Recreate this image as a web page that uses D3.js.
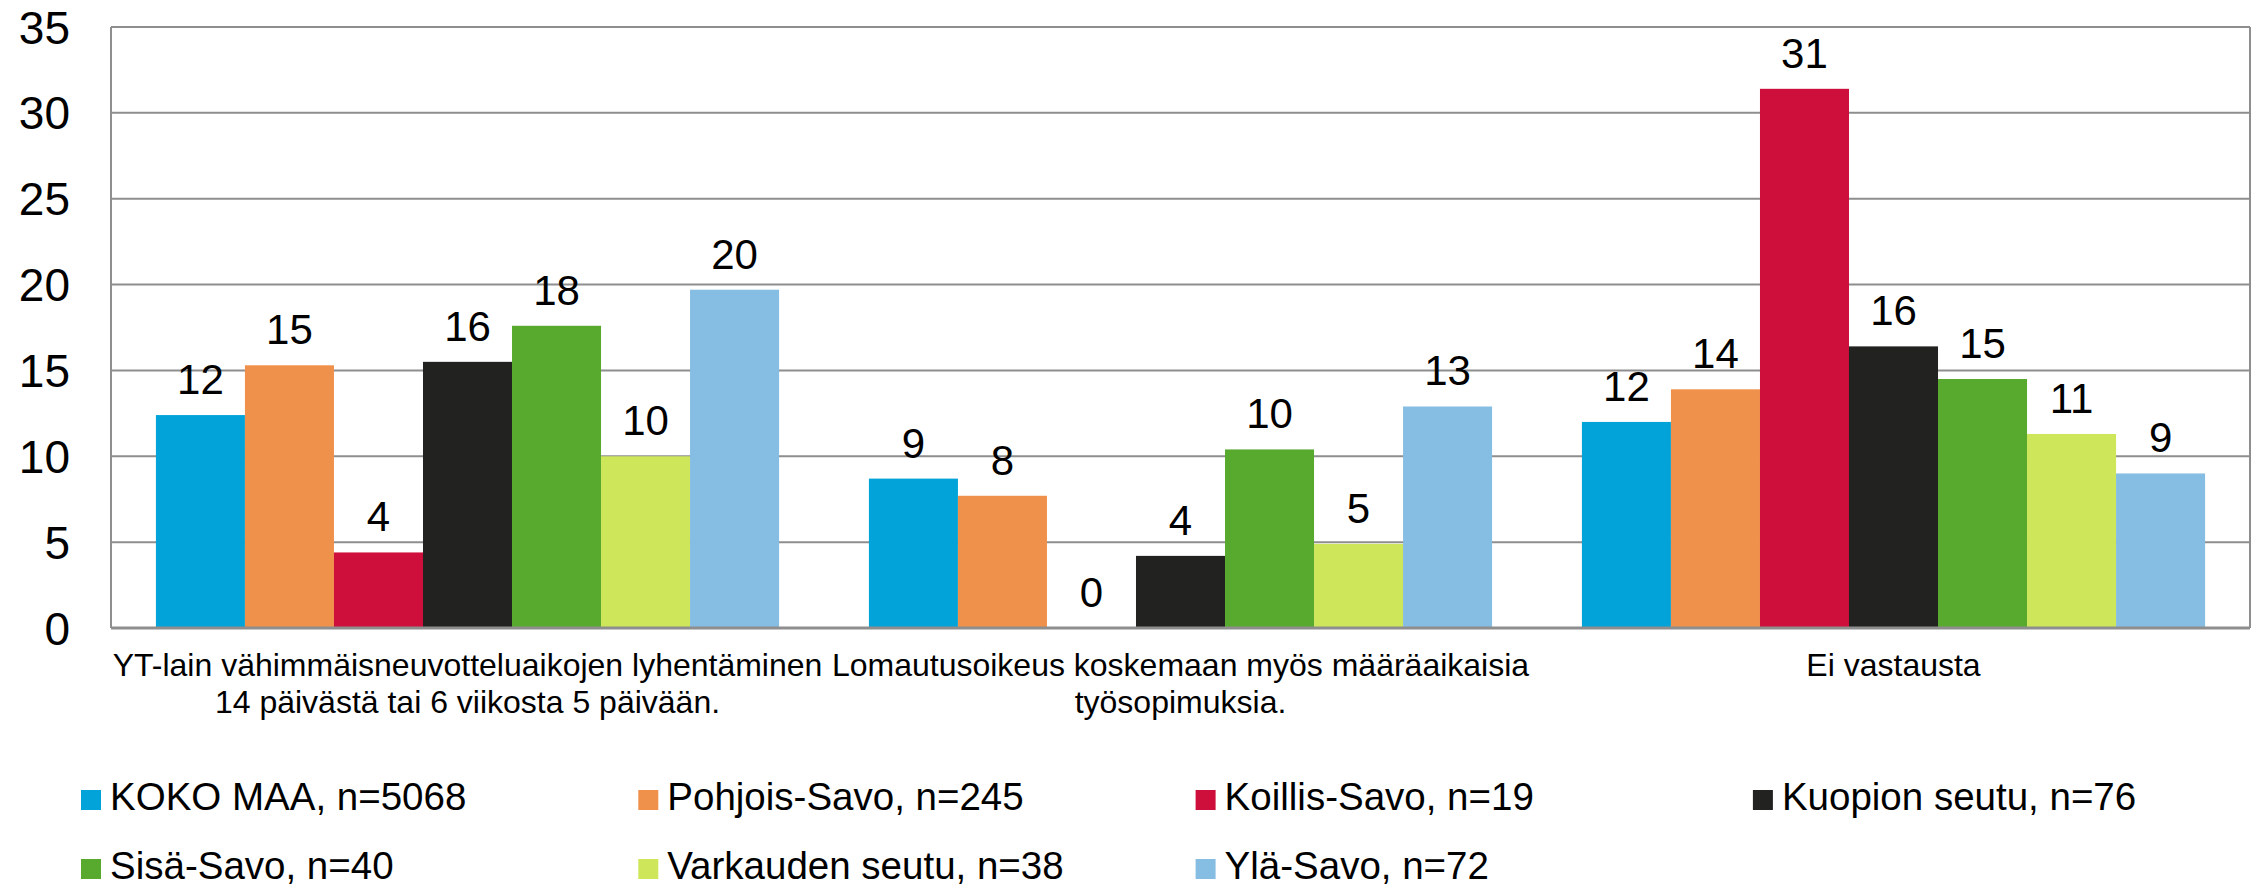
<!DOCTYPE html>
<html>
<head>
<meta charset="utf-8">
<script src="https://cdn.jsdelivr.net/npm/d3@7"></script>
<style>
  body { margin: 0; background: #fff; }
  svg { display: block; font-family: "Liberation Sans", Arial, sans-serif; }
</style>
</head>
<body>
<script>
'use strict';

const categories = [
  ['YT-lain vähimmäisneuvotteluaikojen lyhentäminen', '14 päivästä tai 6 viikosta 5 päivään.'],
  ['Lomautusoikeus koskemaan myös määräaikaisia', 'työsopimuksia.'],
  ['Ei vastausta']
];
const seriesNames = [
  'KOKO MAA, n=5068', 'Pohjois-Savo, n=245', 'Koillis-Savo, n=19', 'Kuopion seutu, n=76',
  'Sisä-Savo, n=40', 'Varkauden seutu, n=38', 'Ylä-Savo, n=72'
];
const colors = ['#02a3d9', '#f0914b', '#ce0f3c', '#222220', '#58aa2e', '#cde65a', '#86bde2'];
// values per series, one per category
const kokoMaa = [12.4, 8.7, 12.0];
const pohjoisSavo = [15.3, 7.7, 13.9];
const koillisSavo = [4.4, 0, 31.4];
const kuopionSeutu = [15.5, 4.2, 16.4];
const sisaSavo = [17.6, 10.4, 14.5];
const varkaudenSeutu = [10.0, 4.9, 11.3];
const ylaSavo = [19.7, 12.9, 9.0];
const labels = [
  ['12', '9', '12'], ['15', '8', '14'], ['4', '0', '31'], ['16', '4', '16'],
  ['18', '10', '15'], ['10', '5', '11'], ['20', '13', '9']
];
const yTicks = [0, 5, 10, 15, 20, 25, 30, 35];

const series = [kokoMaa, pohjoisSavo, koillisSavo, kuopionSeutu, sisaSavo, varkaudenSeutu, ylaSavo];

const margin = {top: 27, left: 111};
const width = 2139;
const height = 601;

const svg = d3.select('body').append('svg')
    .attr('width', 2260)
    .attr('height', 888);

const g = svg.append('g')
    .attr('transform', 'translate(' + margin.left + ',' + margin.top + ')');

const x0 = d3.scaleBand()
    .domain(d3.range(categories.length))
    .range([0, width])
    .paddingInner(0.126)
    .paddingOuter(0.063);

const x1 = d3.scaleBand()
    .domain(d3.range(series.length))
    .range([0, x0.bandwidth()]);

const y = d3.scaleLinear()
    .domain([0, 35])
    .range([height, 0]);

// gridlines
g.append('g')
  .selectAll('line')
  .data(yTicks.slice(1))
  .join('line')
    .attr('x1', 0)
    .attr('x2', width)
    .attr('y1', d => y(d))
    .attr('y2', d => y(d))
    .attr('stroke', '#8e8e8e')
    .attr('stroke-width', 2);

// plot border (left, right)
g.append('line').attr('x1', 0).attr('x2', 0).attr('y1', 0).attr('y2', height)
    .attr('stroke', '#8e8e8e').attr('stroke-width', 2);
g.append('line').attr('x1', width).attr('x2', width).attr('y1', 0).attr('y2', height)
    .attr('stroke', '#8e8e8e').attr('stroke-width', 2);

// y tick labels
g.append('g')
  .selectAll('text')
  .data(yTicks)
  .join('text')
    .attr('x', -41)
    .attr('y', d => y(d))
    .attr('dy', '0.36em')
    .attr('text-anchor', 'end')
    .attr('font-size', 46)
    .text(d => d);

// bars
const groups = g.append('g')
  .selectAll('g')
  .data(categories.map((c, i) => i))
  .join('g')
    .attr('transform', i => 'translate(' + x0(i) + ',0)');

groups.selectAll('rect')
  .data(i => series.map((s, k) => ({k, v: s[i]})))
  .join('rect')
    .attr('x', d => x1(d.k))
    .attr('width', x1.bandwidth())
    .attr('y', d => y(d.v))
    .attr('height', d => height - y(d.v))
    .attr('fill', d => colors[d.k]);

groups.selectAll('text')
  .data(i => series.map((s, k) => ({k, v: s[i], t: labels[k][i]})))
  .join('text')
    .attr('x', d => x1(d.k) + x1.bandwidth() / 2)
    .attr('y', d => y(d.v) - 21)
    .attr('text-anchor', 'middle')
    .attr('font-size', 42)
    .text(d => d.t);

// x axis line
g.append('line')
    .attr('x1', 0).attr('x2', width)
    .attr('y1', height).attr('y2', height)
    .attr('stroke', '#8e8e8e')
    .attr('stroke-width', 3);

// category labels
const catText = g.append('g')
  .selectAll('text')
  .data(categories)
  .join('text')
    .attr('x', (d, i) => x0(i) + x0.bandwidth() / 2)
    .attr('y', height + 48)
    .attr('text-anchor', 'middle')
    .attr('font-size', 32);

catText.selectAll('tspan')
  .data(d => d)
  .join('tspan')
    .attr('x', function() { return d3.select(this.parentNode).attr('x'); })
    .attr('dy', (d, i) => i === 0 ? 0 : 37)
    .text(d => d);

// legend
const legend = svg.append('g')
  .selectAll('g')
  .data(seriesNames)
  .join('g')
    .attr('transform', (d, i) => 'translate(' + (81 + (i % 4) * 557.3) + ',' + (800 + Math.floor(i / 4) * 69) + ')');

legend.append('rect')
    .attr('x', 0)
    .attr('y', -10)
    .attr('width', 20)
    .attr('height', 20)
    .attr('fill', (d, i) => colors[i]);

legend.append('text')
    .attr('x', 29)
    .attr('y', 10)
    .attr('font-size', 38.5)
    .text(d => d);
</script>
</body>
</html>
